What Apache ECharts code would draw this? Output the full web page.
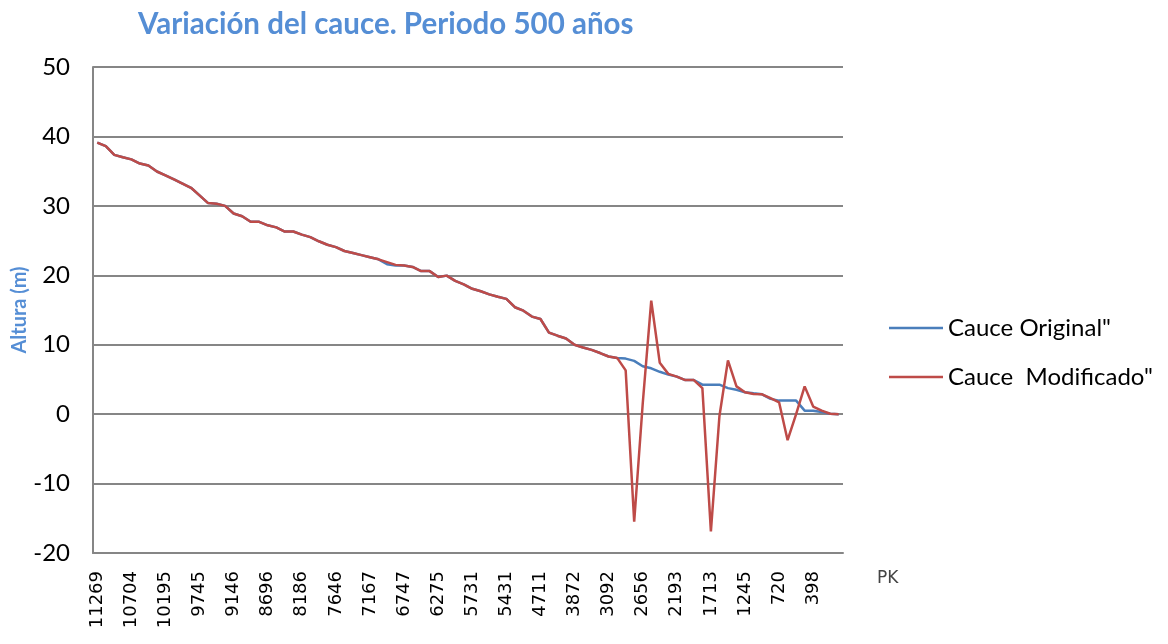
<!DOCTYPE html>
<html>
<head>
<meta charset="utf-8">
<title>Variación del cauce</title>
<script src="https://cdn.jsdelivr.net/npm/echarts@6/dist/echarts.min.js"></script>
<style>
    html, body { margin: 0; padding: 0; background: #fff; }
    #mainPart { width: 1168px; height: 644px; }
</style>
</head>
<body>
<div id="mainPart"></div>
<script>
// PK visibles en el eje (una de cada 4 secciones)
var pkLabels = ['11269', '10704', '10195', '9745', '9146', '8696', '8186', '7646', '7167', '6747', '6275',
    '5731', '5431', '4711', '3872', '3092', '2656', '2193', '1713', '1245', '720', '398'];
var pkStep = 4;
var numSecciones = 88;

var yTicks = [-20, -10, 0, 10, 20, 30, 40, 50];

// Cota del cauce original (m)
var cauceOriginal = [
    39.1, 38.6, 37.35, 37.0, 36.7, 36.1, 35.8, 34.95, 34.4, 33.8,
    33.2, 32.6, 31.5, 30.4, 30.3, 30.0, 28.9, 28.5, 27.7, 27.7,
    27.2, 26.9, 26.3, 26.3, 25.85, 25.5, 24.9, 24.4, 24.05, 23.5,
    23.2, 22.9, 22.6, 22.3, 21.6, 21.4, 21.4, 21.2, 20.6, 20.6,
    19.75, 19.95, 19.2, 18.7, 18.05, 17.7, 17.25, 16.9, 16.6, 15.4,
    14.9, 14.05, 13.7, 11.75, 11.3, 10.9, 10.0, 9.6, 9.25, 8.8,
    8.3, 8.1, 8.0, 7.67, 6.9, 6.6, 6.1, 5.7, 5.4, 4.9,
    4.9, 4.25, 4.25, 4.25, 3.75, 3.5, 3.15, 3.0, 2.86, 2.2,
    1.95, 1.95, 1.95, 0.5, 0.5, 0.3, 0.05, 0
];

// Cota del cauce modificado (m)
var cauceModificado = [
    39.1, 38.6, 37.35, 37.0, 36.7, 36.1, 35.8, 34.95, 34.4, 33.8,
    33.2, 32.6, 31.5, 30.4, 30.3, 30.0, 28.9, 28.5, 27.7, 27.7,
    27.2, 26.9, 26.3, 26.3, 25.85, 25.5, 24.9, 24.4, 24.05, 23.5,
    23.2, 22.9, 22.6, 22.3, 21.9, 21.5, 21.4, 21.2, 20.6, 20.6,
    19.75, 19.95, 19.2, 18.7, 18.05, 17.7, 17.25, 16.9, 16.6, 15.4,
    14.9, 14.05, 13.7, 11.75, 11.3, 10.9, 10.0, 9.6, 9.25, 8.8,
    8.3, 8.1, 6.3, -15.5, 1.5, 16.35, 7.4, 5.8, 5.4, 4.9,
    4.9, 3.75, -16.9, -0.3, 7.75, 4.0, 3.15, 2.9, 2.86, 2.3,
    1.7, -3.75, 0.0, 4.0, 1.1, 0.5, 0.05, 0
];

window.onload = function () {
    // categorias del eje: solo se rotulan las PK visibles
    var categorias = [];
    for (var i = 0; i < numSecciones; i++) {
        categorias.push(i % pkStep == 0 ? pkLabels[i / pkStep] : '');
    }

    var myChart = echarts.init(document.getElementById('mainPart'));
    var option = {
        animation: false,
        backgroundColor: '#ffffff',
        title: {
            text: 'Variación del cauce. Periodo 500 años',
            left: 133,
            top: 4,
            textStyle: {
                fontFamily: 'Lato',
                fontWeight: 'bold',
                fontSize: 29.5,
                color: '#558ED5'
            }
        },
        color: ['#4A7EBB', '#BE4B48'],
        legend: {
            orient: 'vertical',
            left: 884,
            top: 311,
            icon: 'rect',
            itemWidth: 54,
            itemHeight: 2.5,
            itemGap: 25,
            data: ['Cauce Original"', 'Cauce  Modificado"'],
            textStyle: {
                fontFamily: 'Lato',
                fontSize: 24,
                color: '#000'
            }
        },
        grid: {
            left: 93,
            right: 325,
            top: 67,
            bottom: 91,
            outerBoundsMode: 'none'
        },
        xAxis: {
            type: 'category',
            boundaryGap: true,
            data: categorias,
            name: 'PK',
            nameLocation: 'end',
            nameGap: 34,
            nameTextStyle: {
                fontFamily: 'DejaVu Sans',
                fontSize: 17,
                color: '#444',
                verticalAlign: 'top',
                padding: [17, 0, 0, 0]
            },
            axisLine: { onZero: false, lineStyle: { color: '#868686', width: 2 } },
            axisTick: { show: false },
            axisLabel: {
                interval: pkStep - 1,
                rotate: 90,
                margin: 18,
                fontFamily: 'DejaVu Sans',
                fontSize: 18,
                color: '#000'
            },
            splitLine: { show: false }
        },
        yAxis: {
            type: 'value',
            min: yTicks[0],
            max: yTicks[yTicks.length - 1],
            interval: 10,
            name: 'Altura (m)',
            nameLocation: 'middle',
            nameGap: 63,
            nameMoveOverlap: false,
            nameTextStyle: {
                fontFamily: 'Lato',
                fontWeight: 'bold',
                fontSize: 20,
                color: '#558ED5'
            },
            axisLine: { show: true, lineStyle: { color: '#868686', width: 2 } },
            axisTick: { show: false },
            axisLabel: {
                margin: 23,
                fontFamily: 'Lato',
                fontSize: 24,
                color: '#000'
            },
            splitLine: { lineStyle: { color: '#868686', width: 2 } }
        },
        series: [{
            name: 'Cauce Original"',
            type: 'line',
            symbol: 'none',
            data: cauceOriginal,
            lineStyle: { width: 2.5 }
        }, {
            name: 'Cauce  Modificado"',
            type: 'line',
            symbol: 'none',
            data: cauceModificado,
            lineStyle: { width: 2.5 }
        }]
    };
    myChart.setOption(option);
};
</script>
</body>
</html>
